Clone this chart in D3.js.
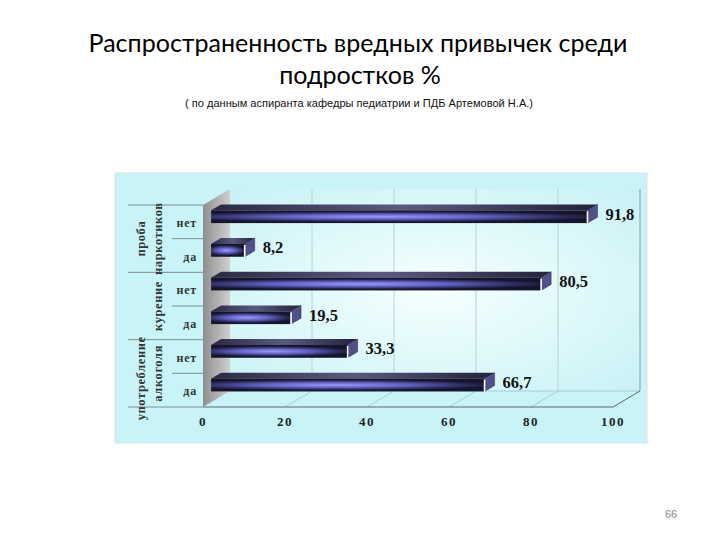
<!DOCTYPE html>
<html>
<head>
<meta charset="utf-8">
<script src="https://cdn.jsdelivr.net/npm/d3@7"></script>
<style>
  body { margin: 0; background: #fff; }
  svg { display: block; }
</style>
</head>
<body>
<svg id="chart" width="720" height="540"></svg>
<script>
// data
var categories = ["нет", "да", "нет", "да", "нет", "да"]
var values = [91.8, 8.2, 80.5, 19.5, 33.3, 66.7]
var valueLabels = ["91,8", "8,2", "80,5", "19,5", "33,3", "66,7"]
var groupNames = [["проба", "наркотиков"], ["курение"], ["употребление", "алкоголя"]]
var ticks = [0, 20, 40, 60, 80, 100]

var svg = d3.select("#chart")
var defs = svg.append("defs")

// 3d box geometry
var DX = 27, DY = -16
var x = d3.scaleLinear().domain([0, 100]).range([203, 613])
var y = d3.scaleBand().domain(d3.range(categories.length)).range([205, 407])
var yBottom = 407, yTop = 205
var serif = "'Liberation Serif', 'Times New Roman', serif"

// gradients
var bg = defs.append("radialGradient").attr("id", "wall").attr("cx", 0.5).attr("cy", 0.5).attr("r", 0.7)
bg.append("stop").attr("offset", 0).attr("stop-color", "#f6ffff")
bg.append("stop").attr("offset", 1).attr("stop-color", "#c9f2f6")

var side = defs.append("linearGradient").attr("id", "side")
side.append("stop").attr("offset", 0).attr("stop-color", "#8e8e8e")
side.append("stop").attr("offset", 1).attr("stop-color", "#cfcfcf")

var front = defs.append("radialGradient").attr("id", "barFront")
  .attr("cx", 0.45).attr("cy", 0.5).attr("r", 0.6)
  .attr("gradientTransform", "translate(0.45,0.5) scale(1,0.7) translate(-0.45,-0.5)")
front.append("stop").attr("offset", 0).attr("stop-color", "#9a9af8")
front.append("stop").attr("offset", 0.45).attr("stop-color", "#6262c4")
front.append("stop").attr("offset", 0.8).attr("stop-color", "#2c2c60")
front.append("stop").attr("offset", 1).attr("stop-color", "#15152c")

var topG = defs.append("linearGradient").attr("id", "barTop")
topG.append("stop").attr("offset", 0).attr("stop-color", "#2a2a44")
topG.append("stop").attr("offset", 0.5).attr("stop-color", "#5a5a7e")
topG.append("stop").attr("offset", 1).attr("stop-color", "#22223a")

// slide text
var t1 = svg.append("text").attr("x", 358).attr("y", 52).attr("text-anchor", "middle")
  .style("font-family", "Lato, 'Open Sans', sans-serif").style("font-size", "25px").attr("fill", "#000")
  .text("Распространенность вредных привычек среди")
var len = t1.node().getComputedTextLength()
var fs = 25 * 539 / len
t1.style("font-size", fs + "px")
svg.append("text").attr("x", 360).attr("y", 84).attr("text-anchor", "middle")
  .style("font-family", "Lato, 'Open Sans', sans-serif").style("font-size", fs + "px").attr("fill", "#000")
  .text("подростков %")

svg.append("text").attr("x", 359).attr("y", 107).attr("text-anchor", "middle")
  .style("font-family", "'Liberation Sans', Arial, sans-serif").style("font-size", "10.5px").attr("fill", "#111")
  .attr("textLength", 348).attr("lengthAdjust", "spacingAndGlyphs")
  .text("( по данным аспиранта кафедры педиатрии и ПДБ  Артемовой Н.А.)")

svg.append("text").attr("x", 671).attr("y", 518).attr("text-anchor", "middle")
  .style("font-family", "'Liberation Sans', Arial, sans-serif").style("font-size", "11px").attr("fill", "#8a8a8a")
  .text("66")

// chart panel
svg.append("rect").attr("x", 115).attr("y", 173).attr("width", 532).attr("height", 270)
  .attr("fill", "#c8f3f7").attr("stroke", "#d6e4e6")

// back wall
svg.append("rect").attr("x", x(0) + DX).attr("y", yTop + DY)
  .attr("width", x(100) - x(0)).attr("height", yBottom - yTop)
  .attr("fill", "url(#wall)")

svg.append("g").selectAll("line").data(ticks.slice(1)).join("line")
  .attr("x1", d => x(d) + DX).attr("x2", d => x(d) + DX)
  .attr("y1", yTop + DY).attr("y2", yBottom + DY)
  .attr("stroke", d => d == 100 ? "#8a9a9e" : "#b4d2d8").attr("stroke-width", 1)

// floor diagonals
svg.append("g").selectAll("line").data(ticks.slice(1, -1)).join("line")
  .attr("x1", d => x(d)).attr("y1", yBottom)
  .attr("x2", d => x(d) + DX).attr("y2", yBottom + DY)
  .attr("stroke", "#a6cdd3")
svg.append("line").attr("x1", x(0) + DX).attr("x2", x(100) + DX)
  .attr("y1", yBottom + DY).attr("y2", yBottom + DY).attr("stroke", "#a6cdd3")

// left wall
svg.append("path")
  .attr("d", "M" + x(0) + "," + yBottom + "L" + x(0) + "," + yTop +
    "L" + (x(0) + DX) + "," + (yTop + DY) + "L" + (x(0) + DX) + "," + (yBottom + DY) + "Z")
  .attr("fill", "url(#side)")

// front floor edge
svg.append("path")
  .attr("d", "M" + x(0) + "," + yBottom + "L" + x(100) + "," + yBottom +
    "L" + (x(100) + DX) + "," + (yBottom + DY))
  .attr("fill", "none").attr("stroke", "#5e6a70").attr("stroke-width", 1)

// tick labels
svg.append("g").selectAll("text").data(ticks).join("text")
  .attr("x", d => x(d)).attr("y", 426).attr("text-anchor", "middle")
  .style("font-family", serif).style("font-weight", "bold").style("font-size", "13px")
  .style("letter-spacing", "1.5px").attr("fill", "#222")
  .text(d => d)

// bars
var d0 = 0.3, dd = 0.37
var ox = DX * d0, oy = DY * d0, tx = DX * dd, ty = DY * dd
var bw = y.bandwidth()
var bars = svg.append("g").selectAll("g").data(values).join("g")

bars.each(function(v, i) {
  var g = d3.select(this)
  var x0 = x(0) + ox, x1 = x(v) + ox
  var yt = y(i) + bw * 0.3 + oy, yb = y(i) + bw * 0.68 + oy
  g.append("path")
    .attr("d", "M" + x0 + "," + yt + "L" + (x0 + tx) + "," + (yt + ty) +
      "L" + (x1 + tx) + "," + (yt + ty) + "L" + x1 + "," + yt + "Z")
    .attr("fill", "url(#barTop)")
  g.append("path")
    .attr("d", "M" + x1 + "," + yt + "L" + (x1 + tx) + "," + (yt + ty) +
      "L" + (x1 + tx) + "," + (yb + ty) + "L" + x1 + "," + yb + "Z")
    .attr("fill", "#50508a").attr("stroke", "#2a2a4a").attr("stroke-width", 0.5)
  g.append("rect").attr("x", x0).attr("y", yt).attr("width", x1 - x0).attr("height", yb - yt)
    .attr("fill", "url(#barFront)")
  g.append("line").attr("x1", x1).attr("x2", x1).attr("y1", yt + 1).attr("y2", yb + 1)
    .attr("stroke", "#fff").attr("stroke-width", 1.6)
  g.append("text")
    .attr("x", x1 + tx + 8).attr("y", (yt + ty + yb) / 2 + 6)
    .style("font-family", serif).style("font-weight", "bold").style("font-size", "16.5px")
    .attr("fill", "#111")
    .text(valueLabels[i])
})

// category labels
svg.append("g").selectAll("text").data(categories).join("text")
  .attr("x", 197).attr("y", (d, i) => y(i) + bw / 2 + 5).attr("text-anchor", "end")
  .style("font-family", serif).style("font-weight", "bold").style("font-size", "12px")
  .style("letter-spacing", "0.8px").attr("fill", "#333")
  .text(d => d)

// separators in the label area
var outer = [0, 2, 4].map(i => y(i)).concat([yBottom])
svg.append("g").selectAll("line").data(outer).join("line")
  .attr("x1", 128).attr("x2", x(0)).attr("y1", d => d).attr("y2", d => d)
  .attr("stroke", "#7d8e93")
svg.append("g").selectAll("line").data([1, 3, 5]).join("line")
  .attr("x1", 172).attr("x2", x(0)).attr("y1", d => y(d)).attr("y2", d => y(d))
  .attr("stroke", "#7d8e93")

// group labels, rotated
groupNames.forEach(function(lines, g) {
  var cy = y(g * 2) + bw
  lines.forEach(function(t, k) {
    var cx = 158 - (lines.length - 1 - k) * 17
    svg.append("text")
      .attr("transform", "translate(" + (cx + 4) + "," + (cy + (g == 2 && k == 0 ? 5 : 0)) + ") rotate(-90)")
      .attr("text-anchor", "middle")
      .style("font-family", serif).style("font-weight", "bold").style("font-size", "12.5px")
      .style("letter-spacing", "0.6px").attr("fill", "#333")
      .text(t)
  })
})
</script>
</body>
</html>
